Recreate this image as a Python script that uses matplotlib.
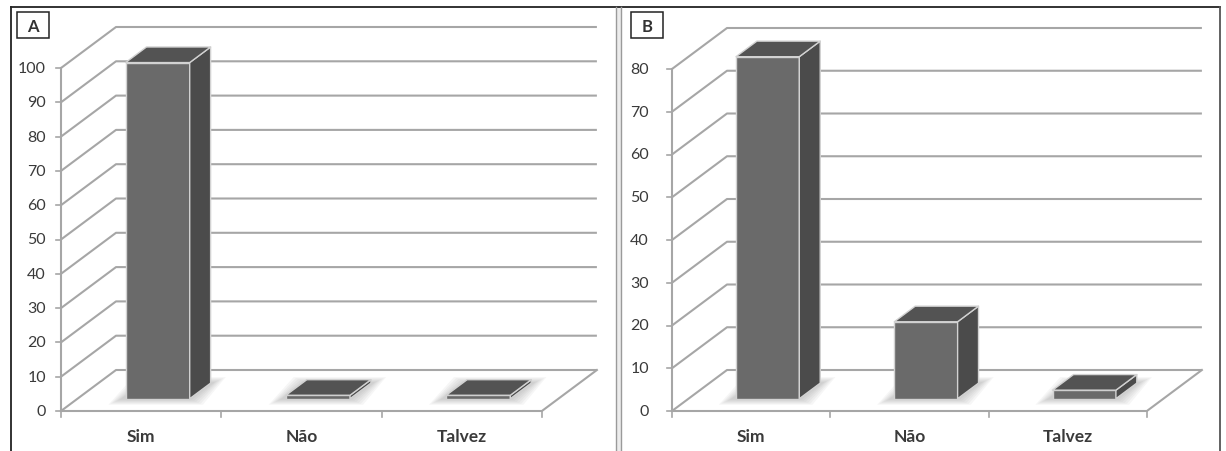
import numpy as np
import matplotlib
matplotlib.use("Agg")
import matplotlib.pyplot as plt
from matplotlib.patches import Polygon, Rectangle

W, H = 1226, 452
DPI = 100

CATEGORIES = ["Sim", "Não", "Talvez"]
VALUES_A = [98, 1, 1]
VALUES_B = [80, 18, 2]
TICKS_A = list(range(0, 101, 10))
TICKS_B = list(range(0, 81, 10))

FRONT = "#6a6a6a"
SIDE = "#4b4b4b"
TOP = "#535353"
EDGE = "#d2d2d2"
GRID = "#a6a6a6"
TEXT = "#3a3a3a"

DEPTH_PX = (55, 41)      # oblique offset of the back wall, in pixels
BAR_W = 0.4              # bar width in category units
BAR_D = (0.30, 0.68)     # bar depth range as fraction of the floor depth

plt.rcParams["font.family"] = ["Lato", "DejaVu Sans"]


def draw_panel(fig, box, origin, xscale, yscale, ticks, values, label_gap):
    l, t, r, b = box
    ox, oy = origin
    ax = fig.add_axes([l / W, 1 - b / H, (r - l) / W, (b - t) / H])
    ax.set_xlim((l - ox) / xscale, (r - ox) / xscale)
    ax.set_ylim((oy - b) / yscale, (oy - t) / yscale)
    ax.axis("off")

    dx = DEPTH_PX[0] / xscale
    dy = DEPTH_PX[1] / yscale
    n = len(values)
    px = 1.0 / xscale
    py = 1.0 / yscale

    # side wall diagonals and back wall gridlines
    for v in ticks:
        ax.plot([0, dx, n + dx], [v, v + dy, v + dy], color=GRID, lw=1.5,
                solid_capstyle="butt", zorder=1)
        ax.plot([-5 * px, 0], [v, v], color=GRID, lw=1.2, zorder=1)
        ax.text(-label_gap * px, v, str(v), ha="right", va="center",
                fontsize=11.5, color=TEXT)

    # front value axis and the floor edges
    ax.plot([0, 0], [0, ticks[-1]], color=GRID, lw=1.5, zorder=1)
    ax.plot([0, n, n + dx], [0, 0, dy], color=GRID, lw=1.5, zorder=1)
    for k in range(n + 1):
        ax.plot([k, k], [0, -6 * py], color=GRID, lw=1.2, zorder=1)

    for i, (cat, v) in enumerate(zip(CATEGORIES, values)):
        ax.text(i + 0.5, -25 * py, cat, ha="center", va="center",
                fontsize=12.5, fontweight="bold", color=TEXT)

        x0 = i + 0.5 - BAR_W / 2
        x1 = i + 0.5 + BAR_W / 2
        d0, d1 = BAR_D
        a = (x0 + d0 * dx, d0 * dy)
        bb = (x1 + d0 * dx, d0 * dy)
        c = (x1 + d1 * dx, d1 * dy)
        d = (x0 + d1 * dx, d1 * dy)

        # soft shadow on the floor
        for k in range(6, 0, -1):
            ex, ey = k * 2.2 * px, k * 1.0 * py
            sh = [(a[0] - ex - 4 * px, a[1] - ey), (bb[0] + ex, bb[1] - ey),
                  (c[0] + ex + 2 * px, c[1] + ey), (d[0] - ex, d[1] + ey)]
            ax.add_patch(Polygon(sh, closed=True, facecolor="#808080",
                                 edgecolor="none", alpha=0.07, zorder=2))

        front = [a, bb, (bb[0], bb[1] + v), (a[0], a[1] + v)]
        side = [bb, c, (c[0], c[1] + v), (bb[0], bb[1] + v)]
        top = [(a[0], a[1] + v), (bb[0], bb[1] + v), (c[0], c[1] + v), (d[0], d[1] + v)]
        for poly, col in ((front, FRONT), (side, SIDE), (top, TOP)):
            ax.add_patch(Polygon(poly, closed=True, facecolor=col,
                                 edgecolor=EDGE, lw=1.0, joinstyle="round", zorder=3))
    return ax


fig = plt.figure(figsize=(W / DPI, H / DPI), dpi=DPI)
fig.patch.set_facecolor("white")

# panel A: value axis origin at pixel (61, 412), 100 units span 343 px
draw_panel(fig, (11, 8, 612, 452), (61, 412), 160.3, 3.43, TICKS_A, VALUES_A, 15)
# panel B: value axis origin at pixel (672, 412), 80 units span 342 px
draw_panel(fig, (622, 8, 1219, 452), (672, 412), 158.3, 4.275, TICKS_B, VALUES_B, 23)

# frame, divider and panel letters drawn in pixel coordinates
over = fig.add_axes([0, 0, 1, 1])
over.set_xlim(0, W)
over.set_ylim(H, 0)
over.axis("off")
over.patch.set_alpha(0)
over.add_patch(Rectangle((616, 8), 5, H - 8, facecolor="#ececec", edgecolor="none"))
over.plot([11, 1220], [8, 8], color="#222222", lw=1.3)
over.plot([11, 11], [8, H], color="#222222", lw=1.3)
over.plot([616, 616], [8, H], color="#9a9a9a", lw=1.0)
over.plot([621, 621], [8, H], color="#9a9a9a", lw=1.0)
over.plot([1220, 1220], [8, H], color="#555555", lw=1.3)
for letter, x in (("A", 17), ("B", 631)):
    over.add_patch(Rectangle((x, 13), 32, 26, facecolor="white",
                             edgecolor="#222222", lw=1.1))
    over.text(x + 16, 26.5, letter, ha="center", va="center",
              fontsize=12, fontweight="bold", color="#333333")

fig.savefig("out.png", dpi=DPI)
